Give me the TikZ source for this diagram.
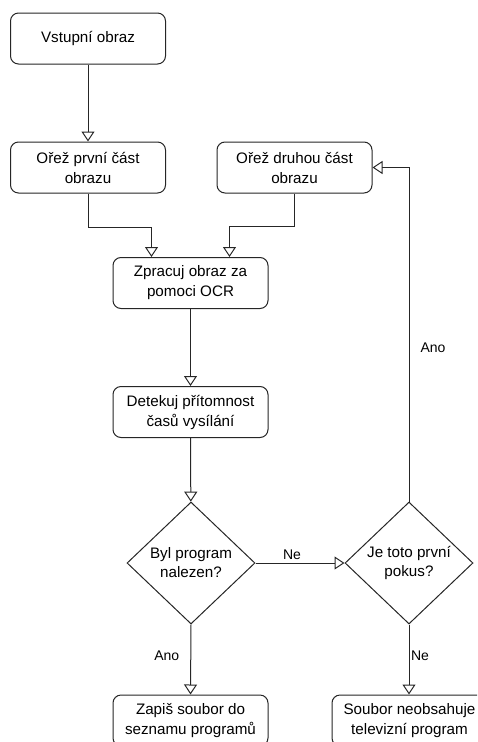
\documentclass[tikz,border=0pt]{standalone}
\usepackage{fontspec}
\setmainfont{Liberation Sans}
\usetikzlibrary{arrows.meta,shapes.geometric,calc}
\begin{document}
\begin{tikzpicture}[x=1pt,y=-1pt,
  line width=1pt,
  stepbox/.style={draw=black!85, fill=white, rounded corners=8pt,
    minimum width=155pt, minimum height=51pt, inner sep=2pt,
    align=center, font=\fontsize{15.2}{20}\selectfont},
  decision/.style={draw=black!85, fill=white, diamond, inner sep=0pt,
    minimum width=128pt, minimum height=122pt,
    align=center, font=\fontsize{15.2}{19}\selectfont},
  flow/.style={draw=black!85, -{Triangle[open, length=10pt, width=13pt]}},
  lbl/.style={font=\fontsize{14}{17}\selectfont, inner sep=1pt}]
\useasboundingbox (0,0) rectangle (477,742);
\clip (0,0) rectangle (477,742);

% process steps
\node[stepbox] (vstup)  at (88,38.5)    {Vstupní obraz};
\node[stepbox] (orez1)  at (88,167.5)   {Ořež první část\\obrazu};
\node[stepbox] (orez2)  at (294.5,167.5){Ořež druhou část\\obrazu};
\node[stepbox] (ocr)    at (190.5,283)  {Zpracuj obraz za\\pomoci OCR};
\node[stepbox] (detek)  at (190.5,412)  {Detekuj přítomnost\\časů vysílání};

% decisions
\node[decision] (nalez) at (191,563) {Byl program\\nalezen?};
\node[decision] (pokus) at (409,563) {Je toto první\\pokus?};

% outcomes
\node[stepbox] (zapis)  at (190.5,720.5) {Zapiš soubor do\\seznamu programů};
\node[stepbox] (neobs)  at (409.5,720.5) {Soubor neobsahuje\\televizní program};

% entry points on top of the OCR step
\coordinate (ocrL) at ($(ocr.north west)!0.25!(ocr.north east)$);
\coordinate (ocrR) at ($(ocr.north west)!0.75!(ocr.north east)$);

% connectors
\draw[flow] (vstup) -- (orez1);
\draw[flow] (orez1.south) -- ++(0,34) -| (ocrL);
\draw[flow] (orez2.south) -- ++(0,33) -| (ocrR);
\draw[flow] (ocr) -- (detek);
\draw[flow] (detek) -- (nalez);
\draw[flow] (nalez.east) -- node[lbl, pos=0.41, above=2pt] {Ne} (pokus.west);
\draw[flow] (pokus.north) |- node[lbl, pos=0.23, right=10pt] {Ano} (orez2.east);
\draw[flow] (nalez.south) -- node[lbl, pos=0.45, left=10pt] {Ano} (zapis.north);
\draw[flow] (pokus.south) -- node[lbl, pos=0.45, right=0.5pt] {Ne} (pokus.south |- zapis.north);
\end{tikzpicture}
\end{document}
